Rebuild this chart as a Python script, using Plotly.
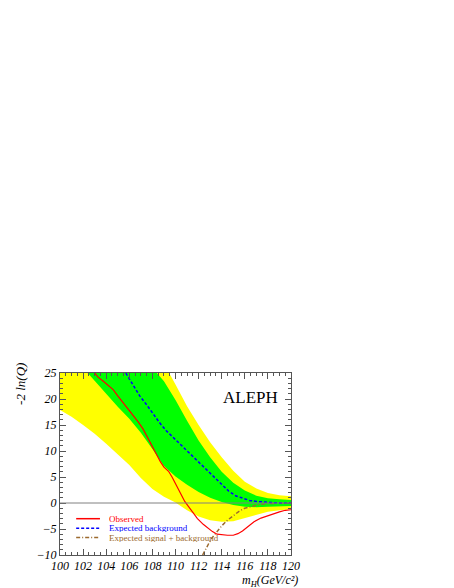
import plotly.graph_objects as go

# ------------------------------------------------------------
# Datos (ALEPH, -2 ln(Q) vs m_H)
# ------------------------------------------------------------

# malla común para las bandas de 1 y 2 sigma (valores fuera del rango estimados)
masa_bandas = [100, 101, 102, 103, 104, 105, 106, 107, 108, 109, 110,
               111, 112, 113, 114, 115, 116, 117, 118, 119, 120]

amarilla_inf = [17.9, 16.6, 15.0, 13.3, 11.4, 9.4, 7.3, 4.8, 2.7, 1.2, 0.1,
                -1.4, -2.6, -3.3, -3.6, -3.5, -2.9, -2.2, -1.7, -1.4, -1.2]
amarilla_sup = [63, 59, 55, 51, 47, 43, 39, 35, 31, 27, 22.8,
                18.6, 15.0, 11.7, 8.8, 6.2, 4.1, 2.8, 1.9, 1.5, 1.3]

verde_inf = [31, 28.5, 25.9, 23.5, 21.1, 18.5, 16.2, 13.5, 10.4, 7.1, 5.1,
             3.5, 2.1, 1.0, 0.2, -0.4, -0.7, -0.8, -0.7, -0.6, -0.6]
verde_sup = [50, 47, 44, 41, 38, 35, 32, 29, 26, 23.4, 19.8,
             15.8, 12.0, 8.8, 6.0, 3.9, 2.4, 1.4, 0.9, 0.7, 0.6]

# curva observada
masa_obs = [103.0, 103.3, 103.75, 104.2, 104.6, 105.0, 105.5, 106.0, 106.3,
            106.8, 107.2, 107.6, 108.1, 108.7, 109.0, 109.4, 109.7, 110.0,
            110.4, 110.8, 111.1, 111.5, 111.9, 112.4, 112.8, 113.2, 113.6,
            114.0, 114.5, 115.0, 115.4, 115.8, 116.3, 116.8, 117.4, 118.0,
            118.5, 119.0, 119.5, 120.0]
q_obs = [25.0, 24.2, 23.4, 22.6, 21.8, 20.6, 19.2, 17.8, 16.9,
         15.5, 14.2, 12.5, 10.4, 7.9, 6.9, 6.1, 5.0, 3.7,
         2.2, 0.3, -0.6, -1.8, -3.0, -4.1, -4.8, -5.5, -6.0,
         -6.1, -6.2, -6.2, -5.9, -5.4, -4.5, -3.6, -2.9, -2.4,
         -2.0, -1.7, -1.4, -1.3]

# esperado solo fondo
masa_fondo = [105.7, 106.3, 106.9, 107.6, 108.1, 108.6, 109.2, 109.8, 110.4,
              111.0, 111.6, 112.2, 112.8, 113.4, 114.0, 114.6, 115.2, 115.8,
              116.4, 117.0, 117.7, 118.5, 119.3, 120.0]
q_fondo = [25.0, 22.7, 20.6, 18.6, 17.0, 15.5, 13.9, 12.6, 11.3,
           10.0, 8.8, 7.6, 6.2, 4.9, 3.5, 2.3, 1.4, 0.9,
           0.5, 0.3, 0.15, 0.05, 0.0, 0.0]

# esperado señal + fondo
masa_senal = [112.35, 112.6, 112.9, 113.2, 113.6, 114.0, 114.5, 115.0, 115.5,
              116.0, 116.6, 117.2, 118.0, 119.0, 120.0]
q_senal = [-10.0, -8.9, -7.7, -6.6, -5.4, -4.4, -3.3, -2.4, -1.6,
           -1.0, -0.6, -0.3, -0.1, 0.0, 0.0]

ticks_x = [100, 102, 104, 106, 108, 110, 112, 114, 116, 118, 120]
ticks_y = [-10, -5, 0, 5, 10, 15, 20, 25]

leyenda = [
    ("Observed", "#ff0000", "solid"),
    ("Expected background", "#0000ff", "3px,2px"),
    ("Expected signal + background", "#9c6a2e", "4px,2px,1px,2px"),
]

SERIF = "Liberation Serif, Times New Roman, serif"

# ------------------------------------------------------------
# Figura
# ------------------------------------------------------------

fig = go.Figure()

fig.add_trace(go.Scatter(x=masa_bandas, y=amarilla_inf, mode="lines",
                         line=dict(width=0, color="#ffff00"),
                         showlegend=False, hoverinfo="skip"))
fig.add_trace(go.Scatter(x=masa_bandas, y=amarilla_sup, mode="lines",
                         line=dict(width=0, color="#ffff00"),
                         fill="tonexty", fillcolor="#ffff00",
                         showlegend=False, hoverinfo="skip"))
fig.add_trace(go.Scatter(x=masa_bandas, y=verde_inf, mode="lines",
                         line=dict(width=0, color="#00ff00"),
                         showlegend=False, hoverinfo="skip"))
fig.add_trace(go.Scatter(x=masa_bandas, y=verde_sup, mode="lines",
                         line=dict(width=0, color="#00ff00"),
                         fill="tonexty", fillcolor="#00ff00",
                         showlegend=False, hoverinfo="skip"))

fig.add_trace(go.Scatter(x=masa_senal, y=q_senal, mode="lines",
                         line=dict(color=leyenda[2][1], width=1.5, dash=leyenda[2][2]),
                         showlegend=False))
fig.add_trace(go.Scatter(x=masa_fondo, y=q_fondo, mode="lines",
                         line=dict(color=leyenda[1][1], width=1.5, dash=leyenda[1][2]),
                         showlegend=False))
fig.add_trace(go.Scatter(x=masa_obs, y=q_obs, mode="lines",
                         line=dict(color=leyenda[0][1], width=1.2),
                         showlegend=False))

# linea del cero por encima de las bandas
fig.add_shape(type="line", xref="x domain", x0=0, x1=1, yref="y", y0=0, y1=0,
              line=dict(color="#808080", width=1), layer="above")

# leyenda dibujada a mano (lineas cortas y texto en color)
for i, (nombre, color, estilo) in enumerate(leyenda):
    y_item = 0.1995 - i * 0.052
    fig.add_shape(type="line", xref="paper", yref="paper",
                  x0=0.07, x1=0.173, y0=y_item, y1=y_item,
                  line=dict(color=color, width=1.5, dash=estilo), layer="above")
    fig.add_annotation(text=nombre, xref="paper", yref="paper",
                       x=0.203, y=y_item, xanchor="left", yanchor="middle",
                       height=8, valign="middle", showarrow=False,
                       font=dict(family=SERIF, size=9, color=color))

fig.add_annotation(text="ALEPH", xref="paper", yref="paper", x=0.825, y=0.868,
                   xanchor="center", yanchor="middle", showarrow=False,
                   font=dict(family=SERIF, size=17, color="black"))

fig.add_annotation(text="-2 ln(Q)", xref="paper", yref="paper", x=-0.169, y=0.94,
                   xanchor="center", yanchor="middle", textangle=-90, showarrow=False,
                   font=dict(family=SERIF, size=13, color="black", style="italic"))

fig.add_annotation(text="m<sub>H</sub>(GeV/c²)", xref="paper", yref="paper",
                   x=1.039, y=-0.2, xanchor="right", yanchor="bottom", showarrow=False,
                   font=dict(family=SERIF, size=12, color="black", style="italic"))

eje = dict(
    showgrid=False,
    zeroline=False,
    showline=True,
    linecolor="#555555",
    linewidth=1,
    mirror="ticks",
    ticks="inside",
    ticklen=6,
    tickcolor="#555555",
    tickfont=dict(family=SERIF, size=12, color="black", style="italic"),
    layer="above traces",
)

fig.update_xaxes(**eje, range=[100, 120], tickvals=ticks_x,
                 minor=dict(ticks="inside", ticklen=3, dtick=0.5, tickcolor="#555555"))
fig.update_yaxes(**eje, range=[-10, 25], tickvals=ticks_y,
                 minor=dict(ticks="inside", ticklen=3, dtick=1, tickcolor="#555555"))

fig.update_layout(
    width=454,
    height=588,
    margin=dict(l=52, r=171, t=365, b=41),
    plot_bgcolor="white",
    paper_bgcolor="white",
    showlegend=False,
)

fig.write_html("out.html")
